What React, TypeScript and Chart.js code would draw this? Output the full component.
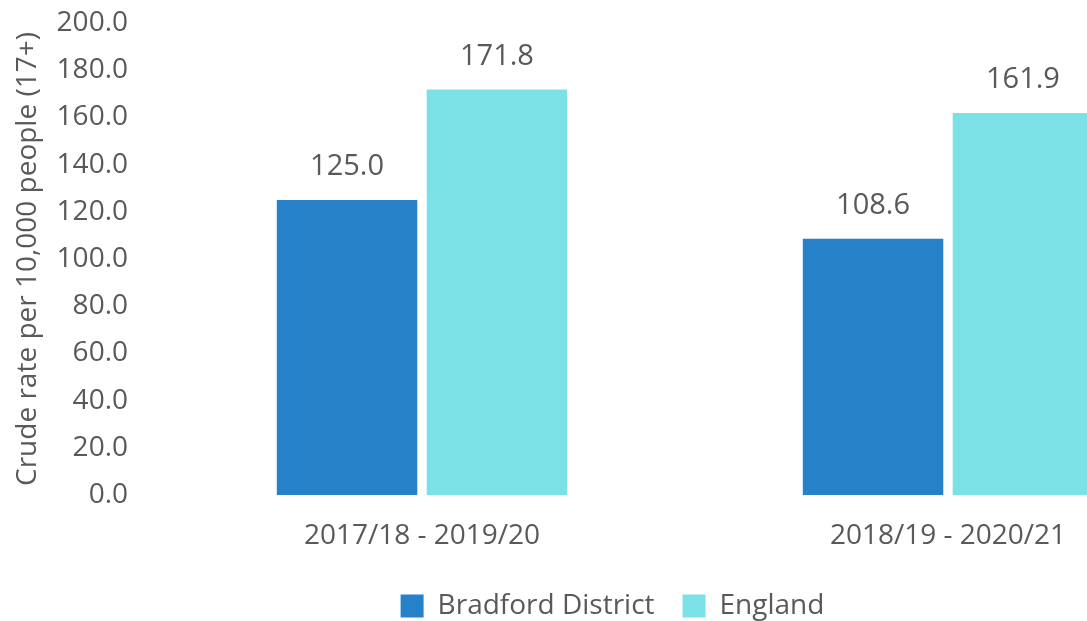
import React, { useEffect, useRef } from "react";
import { Chart, registerables } from "chart.js";

Chart.register(...registerables);

const categories = ["2017/18 - 2019/20", "2018/19 - 2020/21"];
const bradfordValues = [125.0, 108.6];
const englandValues = [171.8, 161.9];
const seriesNames = ["Bradford District", "England"];
const yTitle = "Crude rate per 10,000 people (17+)";

const FONT = "'Open Sans', 'Liberation Sans', sans-serif";
const GRAY = "#595959";
const FS = 28;

const dataLabelPlugin = {
  id: "dataLabels",
  afterDatasetsDraw(chart: any) {
    const ctx = chart.ctx;
    ctx.save();
    ctx.font = `29px ${FONT}`;
    ctx.fillStyle = GRAY;
    ctx.textAlign = "center";
    ctx.textBaseline = "middle";
    chart.data.datasets.forEach((ds: any, i: number) => {
      const meta = chart.getDatasetMeta(i);
      meta.data.forEach((bar: any, j: number) => {
        ctx.fillText(Number(ds.data[j]).toFixed(1), bar.x, bar.y - 33);
      });
    });
    ctx.restore();
  },
};

export default function App() {
  const ref = useRef<HTMLCanvasElement>(null);
  useEffect(() => {
    if (!ref.current) return;
    const chart = new Chart(ref.current, {
      type: "bar",
      data: {
        labels: categories,
        datasets: [
          {
            label: seriesNames[0],
            data: bradfordValues,
            backgroundColor: "#2681C8",
            categoryPercentage: 0.57,
            barPercentage: 0.937,
          },
          {
            label: seriesNames[1],
            data: englandValues,
            backgroundColor: "#7CE1E6",
            categoryPercentage: 0.57,
            barPercentage: 0.937,
          },
        ],
      },
      options: {
        responsive: false,
        animation: false,
        layout: { padding: { top: 23, right: 13, left: 14, bottom: -9 } },
        plugins: {
          legend: {
            position: "bottom",
            labels: {
              boxWidth: 23,
              boxHeight: 23,
              color: GRAY,
              font: { family: FONT, size: FS },
              padding: 28,
            },
          },
          tooltip: { enabled: false },
        },
        scales: {
          x: {
            grid: { display: false, drawTicks: false },
            border: { display: false },
            ticks: {
              color: GRAY,
              font: { family: FONT, size: FS },
              padding: 24,
              maxRotation: 0,
            },
            afterFit(scale: any) {
              scale.height = 69;
              scale.paddingLeft = 0;
              scale.paddingRight = 0;
            },
          },
          y: {
            min: 0,
            max: 200,
            grid: { display: false, drawTicks: false },
            border: { display: false },
            ticks: {
              stepSize: 20,
              color: GRAY,
              font: { family: FONT, size: FS },
              padding: 31,
              callback: (v: any) => Number(v).toFixed(1),
            },
            title: {
              display: true,
              text: yTitle,
              color: GRAY,
              font: { family: FONT, size: 28 },
              padding: { top: -3, bottom: 0 },
            },
            afterFit(scale: any) {
              scale.width = 145;
              scale.paddingTop = 0;
              scale.paddingBottom = 0;
            },
          },
        },
      },
      plugins: [dataLabelPlugin],
    });
    return () => chart.destroy();
  }, []);
  return (
    <div
      style={{
        position: "fixed",
        left: 0,
        top: 0,
        width: 1087,
        height: 621,
        overflow: "hidden",
        background: "#fff",
      }}
    >
      <canvas ref={ref} width={1224} height={621} style={{ display: "block" }} />
    </div>
  );
}
